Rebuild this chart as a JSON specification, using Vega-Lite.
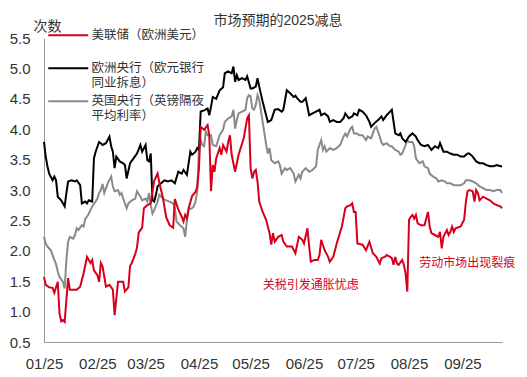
{
  "$schema": "https://vega.github.io/schema/vega-lite/v6.json",
  "width": 458,
  "height": 304,
  "autosize": {"type": "none"},
  "padding": {"left": 44, "top": 38, "right": 25, "bottom": 35},
  "background": "white",
  "config": {"view": {"stroke": null}, "font": "Liberation Sans, Noto Sans CJK SC"},
  "title": {"text": "市场预期的2025减息", "fontSize": 14, "fontWeight": "normal", "color": "#333333", "font": "Liberation Sans, Noto Sans CJK SC", "anchor": "middle", "baseline": "alphabetic", "offset": -5, "dx": 5, "dy": 15},
  "datasets": {
    "fed": [
      {"date":"2025-01-01","value":1.57},{"date":"2025-01-02","value":1.44},{"date":"2025-01-04","value":1.40},{"date":"2025-01-06","value":1.39},{"date":"2025-01-07","value":1.31},{"date":"2025-01-08","value":1.40},{"date":"2025-01-09","value":1.49},{"date":"2025-01-10","value":0.97},{"date":"2025-01-11","value":0.84},{"date":"2025-01-12","value":0.86},{"date":"2025-01-13","value":0.83},{"date":"2025-01-15","value":1.55},{"date":"2025-01-16","value":1.36},{"date":"2025-01-20","value":1.36},{"date":"2025-01-22","value":1.41},{"date":"2025-01-24","value":1.63},{"date":"2025-01-26","value":1.90},{"date":"2025-01-28","value":1.80},{"date":"2025-01-29","value":1.85},{"date":"2025-01-30","value":1.68},
      {"date":"2025-02-01","value":1.60},{"date":"2025-02-02","value":1.49},{"date":"2025-02-03","value":1.80},{"date":"2025-02-04","value":1.74},{"date":"2025-02-06","value":1.41},{"date":"2025-02-08","value":1.44},{"date":"2025-02-10","value":1.36},{"date":"2025-02-11","value":0.94},{"date":"2025-02-13","value":1.49},{"date":"2025-02-16","value":1.49},{"date":"2025-02-17","value":1.33},{"date":"2025-02-19","value":1.40},{"date":"2025-02-20","value":1.75},{"date":"2025-02-21","value":1.80},{"date":"2025-02-23","value":1.95},{"date":"2025-02-24","value":2.05},{"date":"2025-02-25","value":2.30},{"date":"2025-02-27","value":2.38},{"date":"2025-02-28","value":2.70},
      {"date":"2025-03-02","value":2.75},{"date":"2025-03-04","value":2.78},{"date":"2025-03-05","value":2.98},{"date":"2025-03-06","value":3.15},{"date":"2025-03-08","value":3.27},{"date":"2025-03-09","value":3.12},{"date":"2025-03-10","value":3.00},{"date":"2025-03-11","value":2.88},{"date":"2025-03-13","value":2.55},{"date":"2025-03-15","value":2.42},{"date":"2025-03-17","value":2.38},{"date":"2025-03-18","value":2.85},{"date":"2025-03-20","value":2.68},{"date":"2025-03-22","value":2.56},{"date":"2025-03-23","value":2.48},{"date":"2025-03-24","value":2.59},{"date":"2025-03-25","value":2.53},{"date":"2025-03-26","value":2.70},{"date":"2025-03-28","value":2.90},{"date":"2025-03-30","value":2.97},{"date":"2025-03-31","value":3.05},
      {"date":"2025-04-01","value":3.35},{"date":"2025-04-02","value":4.04},{"date":"2025-04-04","value":3.99},{"date":"2025-04-06","value":4.07},{"date":"2025-04-07","value":3.90},{"date":"2025-04-08","value":2.98},{"date":"2025-04-09","value":3.41},{"date":"2025-04-10","value":3.30},{"date":"2025-04-11","value":3.52},{"date":"2025-04-13","value":3.69},{"date":"2025-04-14","value":3.58},{"date":"2025-04-15","value":3.74},{"date":"2025-04-17","value":3.63},{"date":"2025-04-18","value":3.79},{"date":"2025-04-19","value":3.90},{"date":"2025-04-20","value":3.58},{"date":"2025-04-22","value":3.30},{"date":"2025-04-24","value":3.58},{"date":"2025-04-27","value":3.85},{"date":"2025-04-29","value":4.18},{"date":"2025-04-30","value":4.23},
      {"date":"2025-05-01","value":3.36},{"date":"2025-05-02","value":3.19},{"date":"2025-05-03","value":3.30},{"date":"2025-05-04","value":3.33},{"date":"2025-05-05","value":3.14},{"date":"2025-05-06","value":2.81},{"date":"2025-05-08","value":2.64},{"date":"2025-05-10","value":2.51},{"date":"2025-05-12","value":2.29},{"date":"2025-05-13","value":2.10},{"date":"2025-05-14","value":2.29},{"date":"2025-05-15","value":2.15},{"date":"2025-05-17","value":2.23},{"date":"2025-05-19","value":2.26},{"date":"2025-05-20","value":2.15},{"date":"2025-05-22","value":2.07},{"date":"2025-05-25","value":2.07},{"date":"2025-05-27","value":1.96},{"date":"2025-05-29","value":2.23},{"date":"2025-05-31","value":2.18},
      {"date":"2025-06-01","value":2.12},{"date":"2025-06-03","value":2.37},{"date":"2025-06-04","value":2.07},{"date":"2025-06-05","value":1.82},{"date":"2025-06-07","value":1.85},{"date":"2025-06-09","value":1.85},{"date":"2025-06-10","value":1.93},{"date":"2025-06-11","value":2.18},{"date":"2025-06-13","value":2.01},{"date":"2025-06-15","value":1.90},{"date":"2025-06-16","value":1.82},{"date":"2025-06-18","value":1.90},{"date":"2025-06-20","value":2.12},{"date":"2025-06-23","value":2.40},{"date":"2025-06-25","value":2.70},{"date":"2025-06-26","value":2.73},{"date":"2025-06-28","value":2.75},{"date":"2025-06-29","value":2.78},{"date":"2025-06-30","value":2.64},
      {"date":"2025-07-01","value":2.64},{"date":"2025-07-02","value":2.12},{"date":"2025-07-05","value":2.10},{"date":"2025-07-07","value":2.01},{"date":"2025-07-09","value":2.15},{"date":"2025-07-11","value":1.96},{"date":"2025-07-13","value":1.90},{"date":"2025-07-15","value":1.79},{"date":"2025-07-16","value":1.88},{"date":"2025-07-18","value":1.90},{"date":"2025-07-19","value":1.93},{"date":"2025-07-21","value":1.90},{"date":"2025-07-22","value":1.88},{"date":"2025-07-23","value":1.77},{"date":"2025-07-24","value":1.90},{"date":"2025-07-25","value":1.79},{"date":"2025-07-26","value":1.77},{"date":"2025-07-28","value":1.85},{"date":"2025-07-29","value":1.77},{"date":"2025-07-30","value":1.63},{"date":"2025-07-31","value":1.33},
      {"date":"2025-08-01","value":2.51},{"date":"2025-08-02","value":2.56},{"date":"2025-08-03","value":2.59},{"date":"2025-08-04","value":2.53},{"date":"2025-08-05","value":2.59},{"date":"2025-08-06","value":2.45},{"date":"2025-08-08","value":2.42},{"date":"2025-08-10","value":2.42},{"date":"2025-08-11","value":2.53},{"date":"2025-08-12","value":2.64},{"date":"2025-08-13","value":2.40},{"date":"2025-08-14","value":2.29},{"date":"2025-08-16","value":2.26},{"date":"2025-08-18","value":2.23},{"date":"2025-08-19","value":2.31},{"date":"2025-08-20","value":2.04},{"date":"2025-08-21","value":2.23},{"date":"2025-08-23","value":2.34},{"date":"2025-08-24","value":2.26},{"date":"2025-08-25","value":2.31},{"date":"2025-08-26","value":2.40},{"date":"2025-08-27","value":2.31},{"date":"2025-08-28","value":2.37},{"date":"2025-08-31","value":2.40},
      {"date":"2025-09-02","value":2.51},{"date":"2025-09-03","value":2.80},{"date":"2025-09-04","value":2.98},{"date":"2025-09-05","value":3.00},{"date":"2025-09-07","value":2.98},{"date":"2025-09-08","value":2.81},{"date":"2025-09-09","value":3.00},{"date":"2025-09-10","value":2.95},{"date":"2025-09-11","value":2.83},{"date":"2025-09-13","value":2.89},{"date":"2025-09-15","value":2.86},{"date":"2025-09-17","value":2.83},{"date":"2025-09-19","value":2.78},{"date":"2025-09-21","value":2.75},{"date":"2025-09-23","value":2.73},{"date":"2025-09-24","value":2.70}
    ],
    "ecb": [
      {"date":"2025-01-01","value":3.79},{"date":"2025-01-02","value":3.55},{"date":"2025-01-03","value":3.39},{"date":"2025-01-04","value":3.27},{"date":"2025-01-06","value":3.16},{"date":"2025-01-07","value":3.22},{"date":"2025-01-08","value":3.16},{"date":"2025-01-09","value":2.89},{"date":"2025-01-11","value":2.83},{"date":"2025-01-13","value":2.73},{"date":"2025-01-14","value":2.95},{"date":"2025-01-15","value":3.14},{"date":"2025-01-17","value":3.16},{"date":"2025-01-19","value":3.14},{"date":"2025-01-20","value":3.16},{"date":"2025-01-22","value":3.08},{"date":"2025-01-23","value":2.78},{"date":"2025-01-25","value":2.81},{"date":"2025-01-26","value":2.78},{"date":"2025-01-27","value":2.83},{"date":"2025-01-29","value":2.81},{"date":"2025-01-30","value":3.52},{"date":"2025-01-31","value":3.63},
      {"date":"2025-02-02","value":3.79},{"date":"2025-02-03","value":3.77},{"date":"2025-02-04","value":3.74},{"date":"2025-02-06","value":3.77},{"date":"2025-02-08","value":3.88},{"date":"2025-02-09","value":3.72},{"date":"2025-02-10","value":3.63},{"date":"2025-02-11","value":3.36},{"date":"2025-02-12","value":3.55},{"date":"2025-02-14","value":3.47},{"date":"2025-02-16","value":3.44},{"date":"2025-02-17","value":3.41},{"date":"2025-02-18","value":3.19},{"date":"2025-02-20","value":3.44},{"date":"2025-02-22","value":3.52},{"date":"2025-02-24","value":3.60},{"date":"2025-02-26","value":3.74},{"date":"2025-02-27","value":3.63},
      {"date":"2025-03-01","value":3.74},{"date":"2025-03-02","value":3.49},{"date":"2025-03-03","value":3.47},{"date":"2025-03-04","value":3.60},{"date":"2025-03-05","value":2.83},{"date":"2025-03-06","value":2.81},{"date":"2025-03-07","value":2.92},{"date":"2025-03-08","value":3.06},{"date":"2025-03-10","value":3.11},{"date":"2025-03-12","value":3.16},{"date":"2025-03-14","value":3.14},{"date":"2025-03-16","value":3.16},{"date":"2025-03-18","value":3.11},{"date":"2025-03-20","value":3.30},{"date":"2025-03-22","value":3.27},{"date":"2025-03-23","value":3.33},{"date":"2025-03-25","value":3.25},{"date":"2025-03-27","value":3.63},{"date":"2025-03-28","value":3.58},{"date":"2025-03-30","value":3.63},{"date":"2025-03-31","value":3.69},
      {"date":"2025-04-01","value":3.66},{"date":"2025-04-02","value":4.29},{"date":"2025-04-04","value":4.31},{"date":"2025-04-06","value":4.34},{"date":"2025-04-07","value":4.23},{"date":"2025-04-08","value":4.37},{"date":"2025-04-09","value":4.53},{"date":"2025-04-11","value":4.50},{"date":"2025-04-13","value":4.64},{"date":"2025-04-15","value":4.69},{"date":"2025-04-16","value":4.92},{"date":"2025-04-18","value":4.95},{"date":"2025-04-20","value":4.92},{"date":"2025-04-21","value":5.03},{"date":"2025-04-22","value":4.78},{"date":"2025-04-23","value":4.89},{"date":"2025-04-24","value":4.81},{"date":"2025-04-26","value":4.84},{"date":"2025-04-28","value":4.81},{"date":"2025-04-29","value":4.87},
      {"date":"2025-05-01","value":4.67},{"date":"2025-05-02","value":4.67},{"date":"2025-05-04","value":4.70},{"date":"2025-05-05","value":4.84},{"date":"2025-05-06","value":4.70},{"date":"2025-05-08","value":4.45},{"date":"2025-05-10","value":4.23},{"date":"2025-05-11","value":4.12},{"date":"2025-05-13","value":4.15},{"date":"2025-05-15","value":4.32},{"date":"2025-05-17","value":4.33},{"date":"2025-05-19","value":4.29},{"date":"2025-05-20","value":4.32},{"date":"2025-05-22","value":4.64},{"date":"2025-05-24","value":4.59},{"date":"2025-05-26","value":4.53},{"date":"2025-05-27","value":4.55},{"date":"2025-05-28","value":4.51},{"date":"2025-05-30","value":4.45},{"date":"2025-05-31","value":4.45},
      {"date":"2025-06-02","value":4.51},{"date":"2025-06-04","value":4.23},{"date":"2025-06-06","value":4.26},{"date":"2025-06-08","value":4.29},{"date":"2025-06-10","value":4.32},{"date":"2025-06-11","value":4.23},{"date":"2025-06-13","value":4.26},{"date":"2025-06-15","value":4.21},{"date":"2025-06-16","value":4.12},{"date":"2025-06-18","value":4.15},{"date":"2025-06-20","value":4.12},{"date":"2025-06-22","value":4.12},{"date":"2025-06-24","value":4.18},{"date":"2025-06-25","value":4.26},{"date":"2025-06-27","value":4.18},{"date":"2025-06-29","value":4.21},{"date":"2025-06-30","value":4.26},
      {"date":"2025-07-02","value":4.23},{"date":"2025-07-03","value":4.32},{"date":"2025-07-05","value":4.29},{"date":"2025-07-07","value":4.23},{"date":"2025-07-09","value":4.12},{"date":"2025-07-10","value":4.04},{"date":"2025-07-12","value":4.10},{"date":"2025-07-14","value":4.15},{"date":"2025-07-16","value":4.21},{"date":"2025-07-17","value":4.15},{"date":"2025-07-19","value":4.23},{"date":"2025-07-21","value":4.29},{"date":"2025-07-22","value":4.32},{"date":"2025-07-24","value":3.93},{"date":"2025-07-26","value":3.90},{"date":"2025-07-27","value":3.93},{"date":"2025-07-28","value":3.85},{"date":"2025-07-30","value":3.79},
      {"date":"2025-08-01","value":3.88},{"date":"2025-08-03","value":3.93},{"date":"2025-08-05","value":3.88},{"date":"2025-08-06","value":3.82},{"date":"2025-08-08","value":3.74},{"date":"2025-08-10","value":3.72},{"date":"2025-08-12","value":3.74},{"date":"2025-08-14","value":3.66},{"date":"2025-08-16","value":3.72},{"date":"2025-08-18","value":3.69},{"date":"2025-08-19","value":3.77},{"date":"2025-08-21","value":3.63},{"date":"2025-08-23","value":3.63},{"date":"2025-08-25","value":3.60},{"date":"2025-08-27","value":3.58},{"date":"2025-08-29","value":3.58},{"date":"2025-08-31","value":3.55},
      {"date":"2025-09-02","value":3.55},{"date":"2025-09-04","value":3.60},{"date":"2025-09-05","value":3.60},{"date":"2025-09-07","value":3.55},{"date":"2025-09-09","value":3.47},{"date":"2025-09-11","value":3.44},{"date":"2025-09-13","value":3.44},{"date":"2025-09-15","value":3.41},{"date":"2025-09-17","value":3.39},{"date":"2025-09-19","value":3.39},{"date":"2025-09-21","value":3.41},{"date":"2025-09-23","value":3.39},{"date":"2025-09-24","value":3.39}
    ],
    "boe": [
      {"date":"2025-01-01","value":2.23},{"date":"2025-01-02","value":2.12},{"date":"2025-01-03","value":2.07},{"date":"2025-01-05","value":2.01},{"date":"2025-01-07","value":1.85},{"date":"2025-01-08","value":1.78},{"date":"2025-01-09","value":1.66},{"date":"2025-01-10","value":1.57},{"date":"2025-01-12","value":1.49},{"date":"2025-01-13","value":1.38},{"date":"2025-01-14","value":1.85},{"date":"2025-01-15","value":2.15},{"date":"2025-01-16","value":2.23},{"date":"2025-01-18","value":2.20},{"date":"2025-01-19","value":2.26},{"date":"2025-01-20","value":2.37},{"date":"2025-01-21","value":2.34},{"date":"2025-01-23","value":2.42},{"date":"2025-01-24","value":2.40},{"date":"2025-01-25","value":2.53},{"date":"2025-01-26","value":2.56},{"date":"2025-01-27","value":2.61},{"date":"2025-01-29","value":2.73},{"date":"2025-01-31","value":2.81},
      {"date":"2025-02-01","value":2.86},{"date":"2025-02-02","value":2.95},{"date":"2025-02-03","value":3.00},{"date":"2025-02-04","value":3.10},{"date":"2025-02-05","value":2.95},{"date":"2025-02-06","value":3.03},{"date":"2025-02-07","value":3.11},{"date":"2025-02-09","value":3.22},{"date":"2025-02-10","value":3.06},{"date":"2025-02-11","value":2.98},{"date":"2025-02-13","value":3.00},{"date":"2025-02-14","value":2.92},{"date":"2025-02-15","value":2.95},{"date":"2025-02-16","value":2.86},{"date":"2025-02-18","value":2.70},{"date":"2025-02-19","value":2.78},{"date":"2025-02-21","value":2.83},{"date":"2025-02-23","value":2.86},{"date":"2025-02-24","value":2.98},{"date":"2025-02-26","value":2.89},{"date":"2025-02-27","value":2.83},
      {"date":"2025-03-01","value":2.86},{"date":"2025-03-02","value":2.81},{"date":"2025-03-03","value":2.95},{"date":"2025-03-04","value":2.75},{"date":"2025-03-05","value":2.61},{"date":"2025-03-06","value":2.67},{"date":"2025-03-08","value":2.81},{"date":"2025-03-09","value":2.92},{"date":"2025-03-11","value":2.86},{"date":"2025-03-13","value":2.83},{"date":"2025-03-15","value":2.81},{"date":"2025-03-17","value":2.78},{"date":"2025-03-18","value":2.70},{"date":"2025-03-19","value":2.48},{"date":"2025-03-21","value":2.42},{"date":"2025-03-23","value":2.37},{"date":"2025-03-24","value":2.23},{"date":"2025-03-25","value":2.51},{"date":"2025-03-26","value":2.68},{"date":"2025-03-28","value":2.70},{"date":"2025-03-29","value":2.73},{"date":"2025-03-30","value":2.81},{"date":"2025-03-31","value":2.98},
      {"date":"2025-04-01","value":3.69},{"date":"2025-04-02","value":3.82},{"date":"2025-04-03","value":3.74},{"date":"2025-04-04","value":3.72},{"date":"2025-04-05","value":3.96},{"date":"2025-04-06","value":3.90},{"date":"2025-04-08","value":3.90},{"date":"2025-04-09","value":3.74},{"date":"2025-04-11","value":3.72},{"date":"2025-04-13","value":3.90},{"date":"2025-04-15","value":3.99},{"date":"2025-04-16","value":4.12},{"date":"2025-04-18","value":4.18},{"date":"2025-04-20","value":4.21},{"date":"2025-04-21","value":4.32},{"date":"2025-04-22","value":4.01},{"date":"2025-04-23","value":4.15},{"date":"2025-04-24","value":4.26},{"date":"2025-04-26","value":4.29},{"date":"2025-04-28","value":4.32},{"date":"2025-04-29","value":4.51},{"date":"2025-04-30","value":4.56},
      {"date":"2025-05-01","value":4.54},{"date":"2025-05-02","value":4.34},{"date":"2025-05-03","value":4.32},{"date":"2025-05-04","value":4.40},{"date":"2025-05-05","value":4.56},{"date":"2025-05-06","value":4.48},{"date":"2025-05-08","value":4.12},{"date":"2025-05-10","value":3.75},{"date":"2025-05-11","value":3.60},{"date":"2025-05-12","value":3.69},{"date":"2025-05-13","value":3.49},{"date":"2025-05-15","value":3.44},{"date":"2025-05-17","value":3.47},{"date":"2025-05-18","value":3.41},{"date":"2025-05-19","value":3.27},{"date":"2025-05-21","value":3.36},{"date":"2025-05-22","value":3.33},{"date":"2025-05-24","value":3.36},{"date":"2025-05-26","value":3.27},{"date":"2025-05-27","value":3.14},{"date":"2025-05-29","value":3.25},{"date":"2025-05-30","value":3.19},{"date":"2025-05-31","value":3.30},
      {"date":"2025-06-02","value":3.36},{"date":"2025-06-04","value":3.30},{"date":"2025-06-06","value":3.33},{"date":"2025-06-08","value":3.39},{"date":"2025-06-09","value":3.66},{"date":"2025-06-10","value":3.74},{"date":"2025-06-11","value":3.82},{"date":"2025-06-12","value":3.66},{"date":"2025-06-13","value":3.72},{"date":"2025-06-14","value":3.63},{"date":"2025-06-16","value":3.69},{"date":"2025-06-18","value":3.66},{"date":"2025-06-20","value":3.69},{"date":"2025-06-22","value":3.74},{"date":"2025-06-24","value":3.88},{"date":"2025-06-25","value":3.93},{"date":"2025-06-26","value":3.88},{"date":"2025-06-28","value":4.01},{"date":"2025-06-29","value":4.04},{"date":"2025-06-30","value":3.93},
      {"date":"2025-07-02","value":3.93},{"date":"2025-07-03","value":3.90},{"date":"2025-07-05","value":3.90},{"date":"2025-07-07","value":3.82},{"date":"2025-07-08","value":3.88},{"date":"2025-07-10","value":3.85},{"date":"2025-07-12","value":4.01},{"date":"2025-07-13","value":4.04},{"date":"2025-07-15","value":3.88},{"date":"2025-07-16","value":3.78},{"date":"2025-07-17","value":3.74},{"date":"2025-07-19","value":3.77},{"date":"2025-07-21","value":3.72},{"date":"2025-07-22","value":3.72},{"date":"2025-07-24","value":3.66},{"date":"2025-07-26","value":3.63},{"date":"2025-07-27","value":3.58},{"date":"2025-07-28","value":3.60},{"date":"2025-07-30","value":3.74},{"date":"2025-07-31","value":3.82},
      {"date":"2025-08-01","value":3.79},{"date":"2025-08-03","value":3.79},{"date":"2025-08-04","value":3.72},{"date":"2025-08-05","value":3.52},{"date":"2025-08-07","value":3.44},{"date":"2025-08-09","value":3.47},{"date":"2025-08-10","value":3.39},{"date":"2025-08-12","value":3.36},{"date":"2025-08-13","value":3.27},{"date":"2025-08-15","value":3.22},{"date":"2025-08-17","value":3.19},{"date":"2025-08-18","value":3.14},{"date":"2025-08-20","value":3.16},{"date":"2025-08-22","value":3.14},{"date":"2025-08-23","value":3.11},{"date":"2025-08-25","value":3.11},{"date":"2025-08-27","value":3.08},{"date":"2025-08-29","value":3.08},{"date":"2025-08-31","value":3.08},
      {"date":"2025-09-02","value":3.11},{"date":"2025-09-03","value":3.16},{"date":"2025-09-05","value":3.16},{"date":"2025-09-07","value":3.14},{"date":"2025-09-09","value":3.11},{"date":"2025-09-11","value":3.06},{"date":"2025-09-13","value":3.03},{"date":"2025-09-15","value":3.00},{"date":"2025-09-17","value":3.00},{"date":"2025-09-19","value":2.98},{"date":"2025-09-21","value":3.00},{"date":"2025-09-23","value":3.00},{"date":"2025-09-24","value":2.95}
    ],
    "notes": [
      {"date":"2025-05-08","value":1.44,"label":"关税引发通胀忧虑"},
      {"date":"2025-08-07","value":1.80,"label":"劳动市场出现裂痕"}
    ]
  },
  "encoding": {
    "x": {
      "field": "date", "type": "temporal",
      "scale": {"type": "utc", "domain": [{"year": 2025, "month": 1, "date": 1, "utc": true}, {"year": 2025, "month": 9, "date": 24, "utc": true}]},
      "axis": {"title": null, "format": "%m/%y", "tickCount": {"interval": "month", "step": 1}, "ticks": false, "grid": false, "domainColor": "#999999", "domainWidth": 1, "labelFontSize": 15, "labelColor": "#333333", "labelPadding": 14, "labelFont": "Liberation Sans", "labelFlush": false, "labelOverlap": false}
    },
    "y": {
      "field": "value", "type": "quantitative",
      "scale": {"domain": [0.5, 5.5], "nice": false, "zero": false},
      "axis": {"title": "次数", "titleAngle": 0, "titleAlign": "center", "titleBaseline": "alphabetic", "titleX": 3, "titleY": -8, "titleFontSize": 14, "titleFontWeight": "normal", "titleColor": "#333333", "titleFont": "Noto Sans CJK SC", "values": [0.5, 1, 1.5, 2, 2.5, 3, 3.5, 4, 4.5, 5, 5.5], "format": ".1f", "ticks": false, "grid": false, "domainColor": "#999999", "labelFontSize": 15, "labelColor": "#333333", "labelPadding": 14, "labelFont": "Liberation Sans", "labelFlush": false, "labelOverlap": false}
    }
  },
  "layer": [
    {
      "data": {"name": "boe"},
      "mark": {"type": "line", "strokeWidth": 2, "interpolate": "linear"},
      "encoding": {
        "color": {
          "datum": "BoE", "type": "nominal",
          "scale": {"domain": ["Fed", "ECB", "BoE"], "range": ["#d5001c", "#000000", "#8a8a8a"]},
          "legend": {"title": null, "orient": "none", "legendX": 2, "legendY": -9, "direction": "vertical", "gridAlign": "all", "symbolType": "M-5,0H5", "symbolStrokeWidth": 2, "symbolSize": 64, "symbolOffset": 16, "labelFontSize": 12.5, "labelColor": "#333333", "labelFont": "Noto Sans CJK SC", "labelOffset": 17, "rowPadding": 5, "labelLimit": 300, "padding": 0, "labelExpr": "datum.value == 'Fed' ? '美联储（欧洲美元）' : datum.value == 'ECB' ? ['欧洲央行（欧元银行', '同业拆息）'] : ['英国央行（英镑隔夜', '平均利率）']"}
        }
      }
    },
    {
      "data": {"name": "ecb"},
      "mark": {"type": "line", "strokeWidth": 2, "interpolate": "linear"},
      "encoding": {"color": {"datum": "ECB", "type": "nominal"}}
    },
    {
      "data": {"name": "fed"},
      "mark": {"type": "line", "strokeWidth": 2, "interpolate": "linear"},
      "encoding": {"color": {"datum": "Fed", "type": "nominal"}}
    },
    {
      "data": {"name": "notes"},
      "mark": {"type": "text", "align": "left", "baseline": "middle", "fontSize": 12, "font": "Noto Sans CJK SC", "color": "#d5001c"},
      "encoding": {"text": {"field": "label", "type": "nominal"}}
    }
  ]
}
